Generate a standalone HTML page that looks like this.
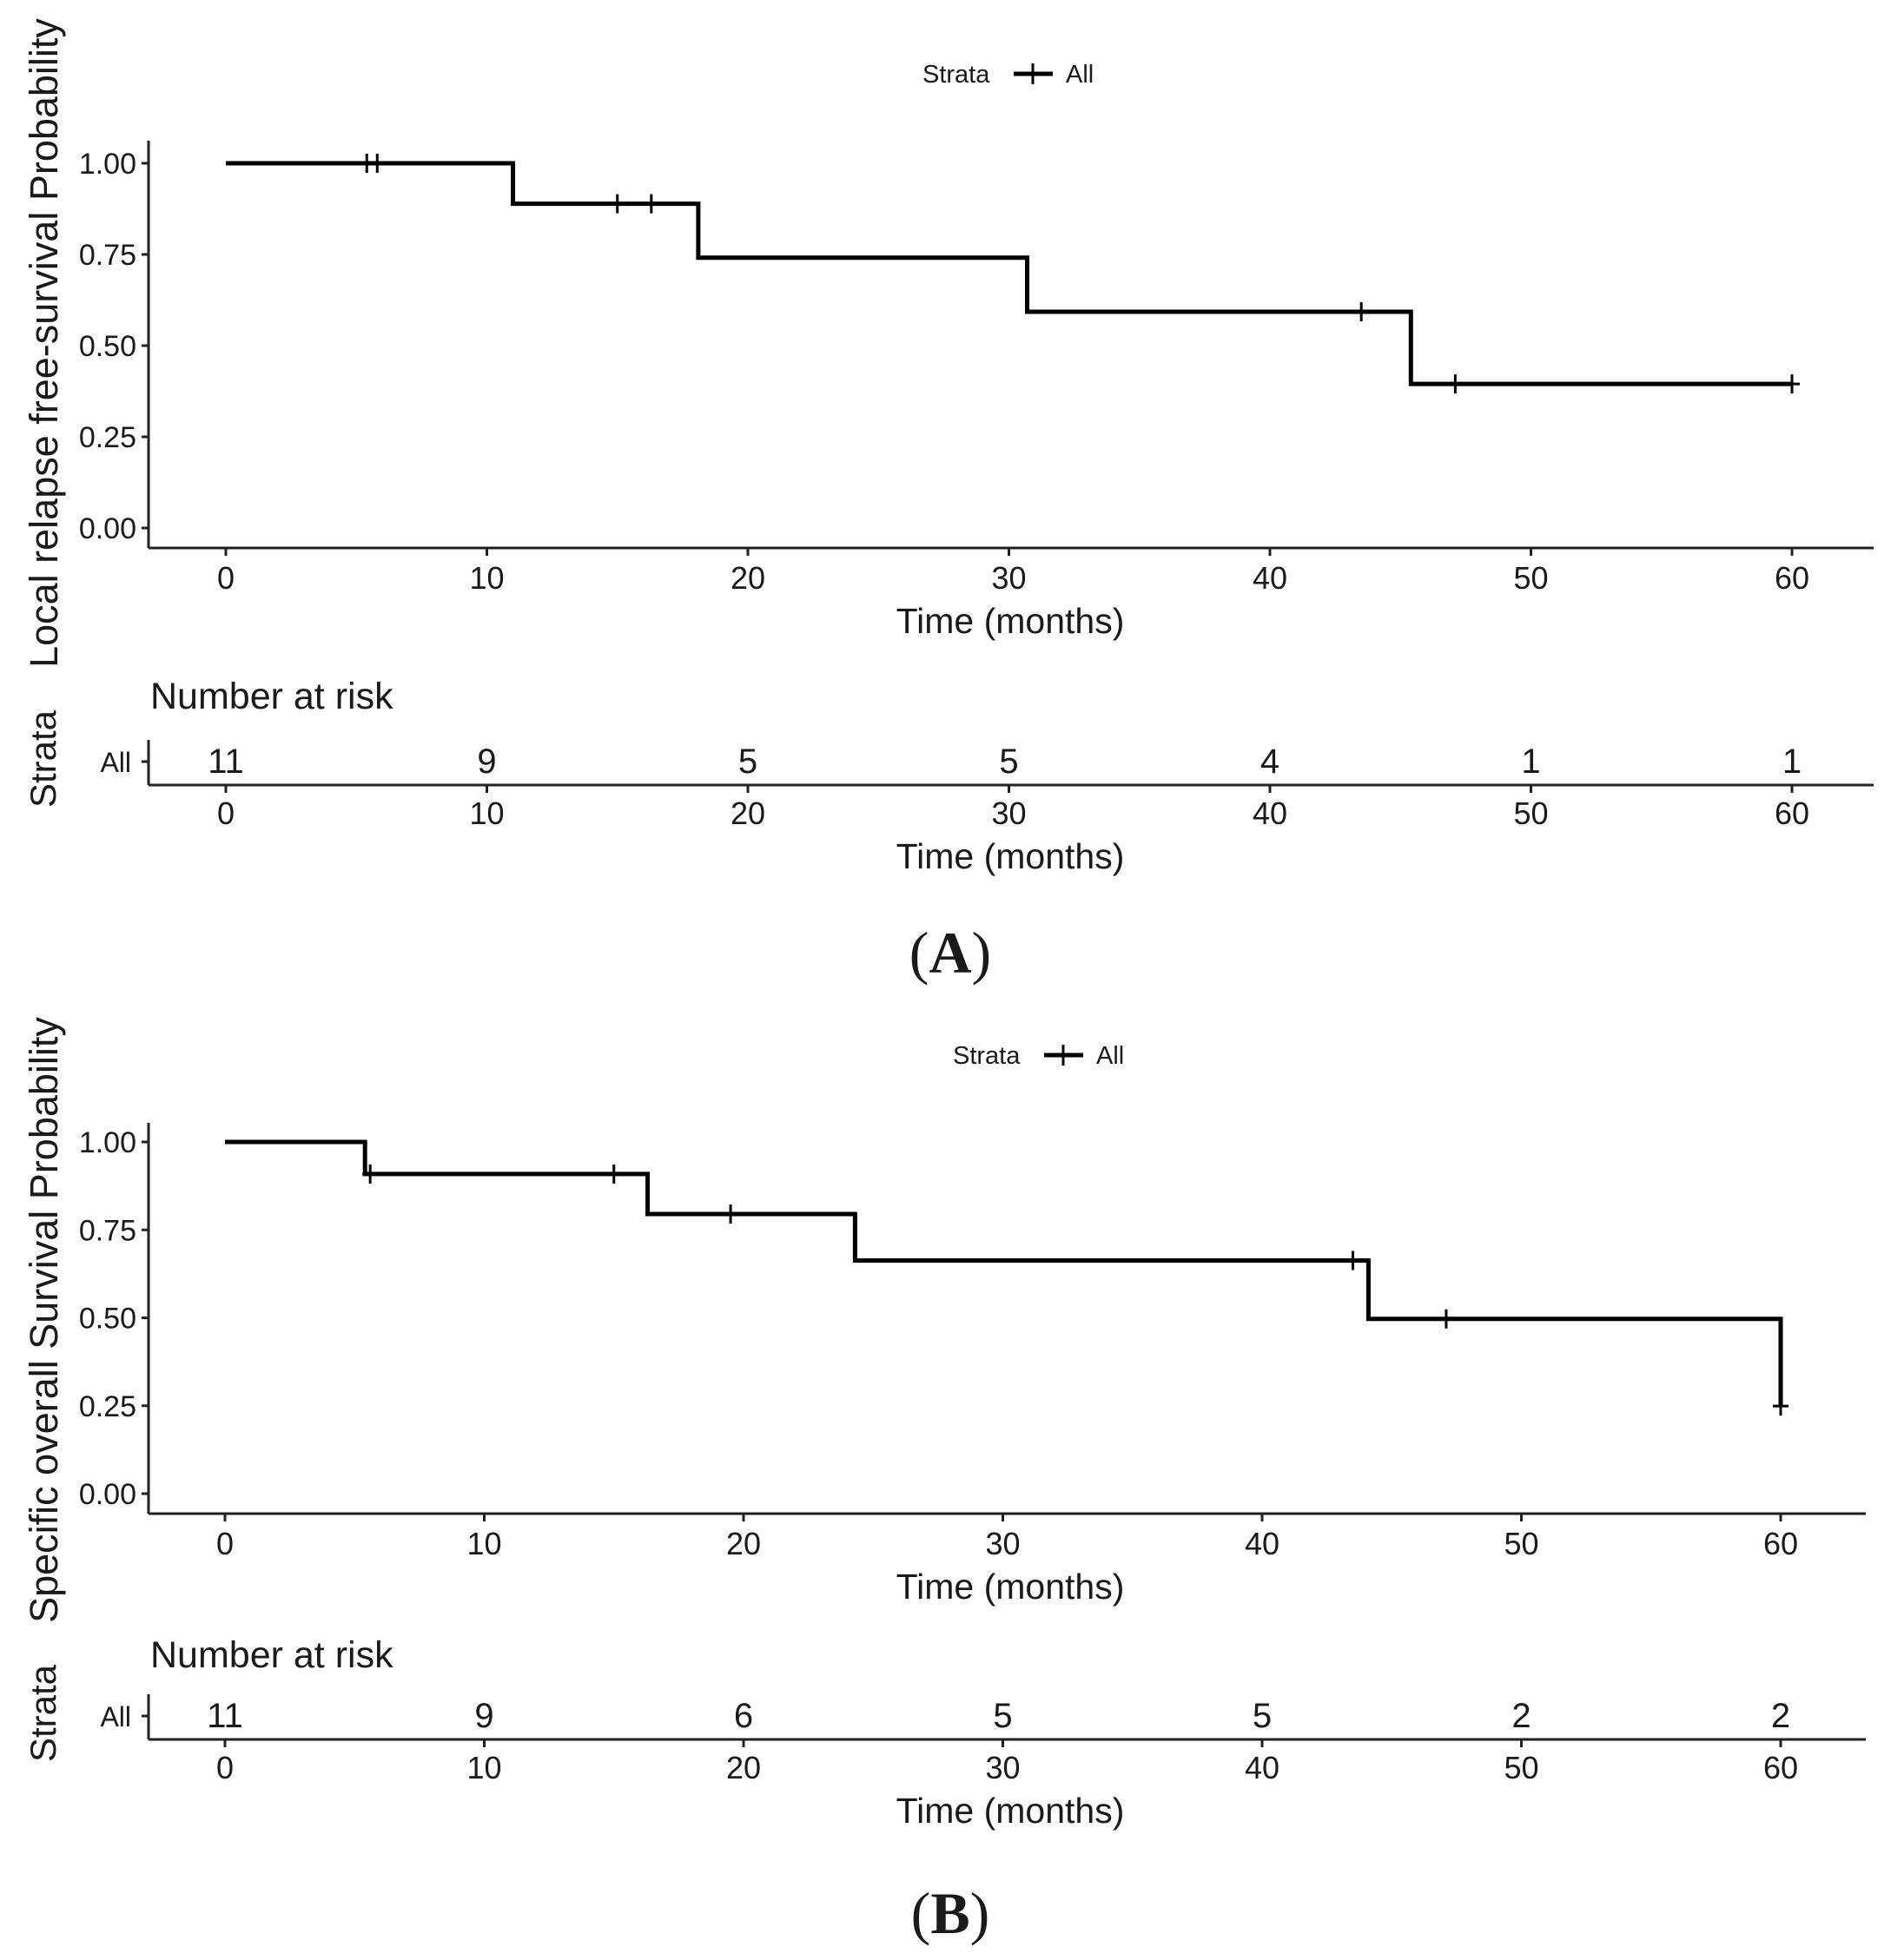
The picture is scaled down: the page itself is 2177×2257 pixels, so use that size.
<!DOCTYPE html>
<html><head><meta charset="utf-8"><style>
html,body{margin:0;padding:0;background:#fff}
svg{display:block}
text{font-family:"Liberation Sans",Arial,sans-serif;fill:#1a1a1a}
text.serif{font-family:"Liberation Serif","Times New Roman",serif}
</style></head>
<body>
<svg id="fig" width="2177" height="2257" viewBox="0 0 2177 2257" xmlns="http://www.w3.org/2000/svg"></svg>
<script>
// ---- Data ----
const xTicks = [0,10,20,30,40,50,60];
const yTicks = [0,0.25,0.5,0.75,1];
const yTickLabels = ["0.00","0.25","0.50","0.75","1.00"];
// Panel A
const aStepTimes = [0,11.0,18.1,30.7,45.4,60];
const aSurv = [1.0,0.889,0.741,0.593,0.395,0.395];
const aCensorTimes = [5.4,5.8,15.0,16.3,43.5,47.1,60];
const aCensorSurv = [1.0,1.0,0.889,0.889,0.593,0.395,0.395];
const aRisk = [11,9,5,5,4,1,1];
// Panel B
const bStepTimes = [0,5.4,16.3,24.3,44.1,60,60];
const bSurv = [1.0,0.909,0.795,0.663,0.497,0.249,0.249];
const bCensorTimes = [5.6,15.0,19.5,43.5,47.1,60];
const bCensorSurv = [0.909,0.909,0.795,0.663,0.497,0.249];
const bRisk = [11,9,6,5,5,2,2];

const NS="http://www.w3.org/2000/svg";
const svg=document.getElementById('fig');
function el(tag,attrs,parent,txt){const e=document.createElementNS(NS,tag);for(const k in attrs)e.setAttribute(k,attrs[k]);if(txt!==undefined)e.textContent=txt;(parent||svg).appendChild(e);return e;}

function panel(cfg){
  const g=el('g',{});
  
  
  const X=t=>cfg.x0+(t/10)*cfg.dx;
  const Y=v=>cfg.y0-v*cfg.dy;
  // legend
  const lg=el('g',{},g);
  
  
  el('text',{x:cfg.legX,y:cfg.legY,'font-size':29,'text-anchor':'start'},lg,'Strata');
  el('line',{x1:cfg.legX+105,x2:cfg.legX+150,y1:cfg.legY-10,y2:cfg.legY-10,stroke:'#000','stroke-width':5},lg);
  el('line',{x1:cfg.legX+127,x2:cfg.legX+127,y1:cfg.legY-22,y2:cfg.legY+2,stroke:'#000','stroke-width':3},lg);
  el('text',{x:cfg.legX+165,y:cfg.legY,'font-size':29},lg,'All');
  // axes
  const ax=el('g',{},g);
  
  
  el('line',{x1:cfg.axL,x2:cfg.axL,y1:cfg.axTop,y2:cfg.axB,stroke:'#222','stroke-width':3},ax);
  yTicks.forEach((v,i)=>{
    el('line',{x1:cfg.axL-8,x2:cfg.axL,y1:Y(v),y2:Y(v),stroke:'#222','stroke-width':3},ax);
    const t=el('text',{x:cfg.axL-14,y:Y(v)+12,'font-size':34,'text-anchor':'end'},ax,yTickLabels[i]);
    
    
  });
  const xa=el('g',{},g);
  
  
  el('line',{x1:cfg.axL,x2:cfg.axR,y1:cfg.axB,y2:cfg.axB,stroke:'#222','stroke-width':3},xa);
  xTicks.forEach(t=>{
    el('line',{x1:X(t),x2:X(t),y1:cfg.axB,y2:cfg.axB+9,stroke:'#222','stroke-width':3},xa);
    const tx=el('text',{x:X(t),y:cfg.axB+47,'font-size':36,'text-anchor':'middle'},xa,String(t));
    
    
  });
  const xt=el('text',{x:1163,y:cfg.axB+98,'font-size':41,'text-anchor':'middle'},g,'Time (months)');
  
  
  const yt=el('text',{x:0,y:0,'font-size':45,'text-anchor':'middle',transform:`translate(66,${cfg.yLabCY}) rotate(-90)`},g,cfg.ylab);
  
  
  // curve
  let d='';
  for(let i=0;i<cfg.times.length;i++){
    const x=X(cfg.times[i]),y=Y(cfg.surv[i]);
    if(i===0)d+=`M${x},${y}`;else d+=`H${x}V${y}`;
  }
  const p=el('path',{d:d,fill:'none',stroke:'#000','stroke-width':5,'stroke-linejoin':'miter'},g);
  
  
  cfg.cT.forEach((t,i)=>{
    const c=el('path',{d:`M${X(t)},${Y(cfg.cS[i])-11}V${Y(cfg.cS[i])+11}M${X(t)-9},${Y(cfg.cS[i])}H${X(t)+9}`,stroke:'#000','stroke-width':3,fill:'none'},g);
    
    
  });
  // risk table
  const rt=el('g',{},g);
  
  
  el('text',{x:173,y:cfg.rTitleY,'font-size':43},rt,'Number at risk');
  el('line',{x1:cfg.axL,x2:cfg.axL,y1:cfg.rLine-52,y2:cfg.rLine,stroke:'#222','stroke-width':3},rt);
  el('line',{x1:cfg.axL-8,x2:cfg.axL,y1:cfg.rLine-27,y2:cfg.rLine-27,stroke:'#222','stroke-width':3},rt);
  el('text',{x:cfg.axL-20,y:cfg.rLine-15,'font-size':32,'text-anchor':'end'},rt,'All');
  el('line',{x1:cfg.axL,x2:cfg.axR,y1:cfg.rLine,y2:cfg.rLine,stroke:'#222','stroke-width':3},rt);
  cfg.risk.forEach((n,i)=>{
    const r=el('text',{x:X(xTicks[i]),y:cfg.rLine-14,'font-size':40,'text-anchor':'middle'},rt,String(n));
    
    
  });
  xTicks.forEach(t=>{
    el('line',{x1:X(t),x2:X(t),y1:cfg.rLine,y2:cfg.rLine+9,stroke:'#222','stroke-width':3},rt);
    el('text',{x:X(t),y:cfg.rLine+45,'font-size':36,'text-anchor':'middle'},rt,String(t));
  });
  el('text',{x:1163,y:cfg.rLine+96,'font-size':41,'text-anchor':'middle'},rt,'Time (months)');
  el('text',{x:0,y:0,'font-size':42,'text-anchor':'middle',transform:`translate(64,${cfg.rLine-30}) rotate(-90)`},rt,'Strata');
  const lab=el('text',{x:1094,y:cfg.labY,'font-size':68,'text-anchor':'middle','class':'serif'},g);
  
  
  el('tspan',{},lab,'(');
  el('tspan',{'font-weight':'bold'},lab,cfg.letter);
  el('tspan',{},lab,')');
}

panel({name:'panel-a',x0:260,dx:300.5,y0:608,dy:420,axL:171,axR:2157,axTop:162,axB:631,
  legX:1062,legY:95,yLabCY:395,ylab:'Local relapse free-survival Probability',
  times:aStepTimes,surv:aSurv,cT:aCensorTimes,cS:aCensorSurv,risk:aRisk,
  rTitleY:816,rLine:904,labY:1120,letter:'A'});
panel({name:'panel-b',x0:259,dx:298.5,y0:1720,dy:405,axL:171,axR:2148,axTop:1293,axB:1743,
  legX:1097,legY:1225,yLabCY:1520,ylab:'Specific overall Survival Probability',
  times:bStepTimes,surv:bSurv,cT:bCensorTimes,cS:bCensorSurv,risk:bRisk,
  rTitleY:1920,rLine:2003,labY:2226,letter:'B'});
</script>
</body></html>
